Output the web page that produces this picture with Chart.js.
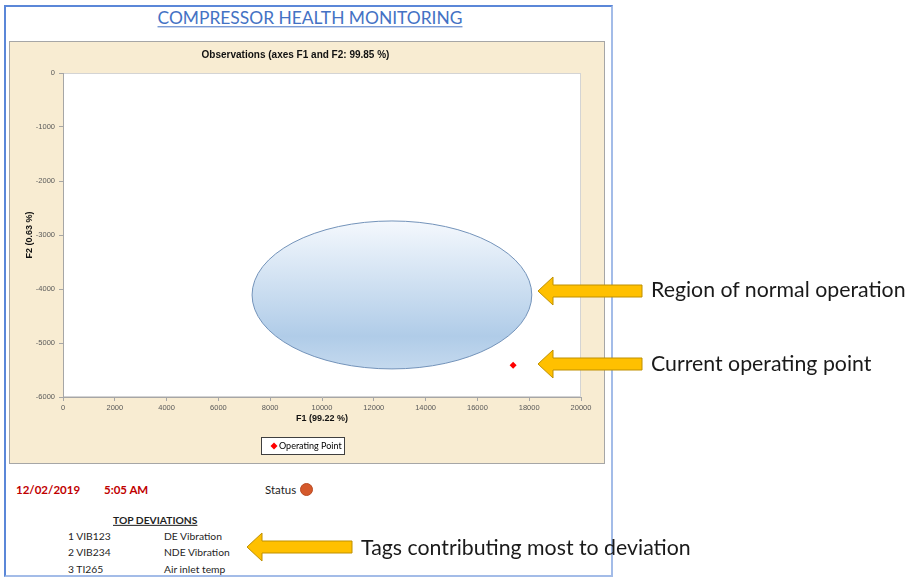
<!DOCTYPE html>
<html>
<head>
<meta charset="utf-8">
<script src="https://cdn.jsdelivr.net/npm/chart.js@4.4.1/dist/chart.umd.min.js"></script>
<style>
  html, body { margin: 0; padding: 0; background: #fff; }
  body { width: 917px; height: 584px; position: relative; overflow: hidden; font-family: Lato, 'Open Sans', sans-serif; }
  .frame { position: absolute; left: 4px; top: 5px; width: 609px; height: 572px; box-sizing: border-box;
    border-left: 2px solid #5b87d8; border-top: 2px solid #5b87d8; border-right: 2px solid #a3bce8; border-bottom: 2px solid #a3bce8; }
  .t { position: absolute; white-space: nowrap; line-height: 1; transform: translateY(-50%); }
  .title { left: 4px; width: 612px; top: 18px; text-align: center; font-size: 17.4px; color: #4472c4; text-decoration: underline; text-underline-offset: 2px; }
  .plotbox { position: absolute; left: 9px; top: 41px; width: 594px; height: 421px; border: 1px solid #a6a6a6; background: #f8ecd2; }
  .plotbox canvas { display: block; }
  .red { color: #c00000; font-weight: bold; font-size: 11.5px; }
  .dark { color: #1f1f1f; font-size: 11.5px; }
  .small { color: #1f1f1f; font-size: 10.3px; }
  .dot { position: absolute; left: 299.5px; top: 483px; width: 11px; height: 11px; border-radius: 50%; background: #d5592b; border: 1px solid #b94a22; }
  .callout { font-size: 21.3px; color: #1a1a1a; }
</style>
</head>
<body>
<div class="frame"></div>
<div class="t title">COMPRESSOR HEALTH MONITORING</div>
<div class="plotbox"><canvas id="chartObs" width="594" height="421"></canvas></div>

<div class="t red" style="left:16px; top:490px;">12/02/2019</div>
<div class="t red" style="left:104px; top:490px;">5:05 AM</div>
<div class="t dark" style="left:265px; top:490px;">Status</div>
<div class="dot"></div>
<div class="t small" style="left:113px; top:520px; font-weight:bold; text-decoration:underline;">TOP DEVIATIONS</div>
<div id="devRows"></div>

<svg width="917" height="584" style="position:absolute; left:0; top:0;">
  <g fill="#ffc000" stroke="#bf9000" stroke-width="1">
    <polygon points="538,291 553,277 553,285 642,285 642,297 553,297 553,305" />
    <polygon points="538,364 553,350 553,358 642,358 642,370 553,370 553,378" />
    <polygon points="247,547 262,533 262,541 352,541 352,553 262,553 262,561" />
  </g>
</svg>
<div class="t callout" style="left:651px; top:290px;">Region of normal operation</div>
<div class="t callout" style="left:651px; top:364px;">Current operating point</div>
<div class="t callout" style="left:361px; top:548px;">Tags contributing most to deviation</div>

<script>
const f1Ticks = [0, 2000, 4000, 6000, 8000, 10000, 12000, 14000, 16000, 18000, 20000];
const f2Ticks = [-6000, -5000, -4000, -3000, -2000, -1000, 0];
const operatingF1 = [17380];
const operatingF2 = [-5410];
const regionCenter = [12700, -4110];   // F1, F2
const regionRadius = [5400, 1370];     // F1, F2
const deviationTags = ['VIB123', 'VIB234', 'TI265'];
const deviationNames = ['DE Vibration', 'NDE Vibration', 'Air inlet temp'];

// top deviations list
const rowsY = [536, 552, 569];
document.getElementById('devRows').innerHTML = deviationTags.map((tag, i) => `
  <div class="t small" style="left:68px; top:${rowsY[i]}px;">${i + 1} ${tag}</div>
  <div class="t small" style="left:164px; top:${rowsY[i]}px;">${deviationNames[i]}</div>
`).join('');

Chart.defaults.font.family = "'Liberation Sans', Arial, sans-serif";

const plotBackground = {
  id: 'plotBackground',
  beforeDraw(chart) {
    const { ctx, chartArea: a } = chart;
    ctx.save();
    ctx.fillStyle = '#ffffff';
    ctx.fillRect(a.left, a.top, a.right - a.left, a.bottom - a.top);
    ctx.strokeStyle = '#d4d4d4';
    ctx.lineWidth = 1;
    ctx.strokeRect(a.left + 0.5, a.top + 0.5, a.right - a.left - 1, a.bottom - a.top - 1);
    ctx.restore();
  }
};

const normalRegion = {
  id: 'normalRegion',
  beforeDatasetsDraw(chart) {
    const { ctx, scales: { x, y } } = chart;
    const cx = x.getPixelForValue(regionCenter[0]);
    const cy = y.getPixelForValue(regionCenter[1]);
    const rx = Math.abs(x.getPixelForValue(regionCenter[0] + regionRadius[0]) - cx);
    const ry = Math.abs(y.getPixelForValue(regionCenter[1] + regionRadius[1]) - cy);
    const g = ctx.createLinearGradient(0, cy - ry, 0, cy + ry);
    g.addColorStop(0, '#f4f8fd');
    g.addColorStop(0.78, '#b0cce8');
    g.addColorStop(1, '#c4d9ee');
    ctx.save();
    ctx.beginPath();
    ctx.ellipse(cx, cy, rx, ry, 0, 0, Math.PI * 2);
    ctx.fillStyle = g;
    ctx.fill();
    ctx.lineWidth = 1;
    ctx.strokeStyle = '#7393ba';
    ctx.stroke();
    ctx.restore();
  }
};

const boxedLegend = {
  id: 'boxedLegend',
  afterDraw(chart, args, opts) {
    const { ctx } = chart;
    const ds = chart.data.datasets[0];
    const cy = opts.top + opts.height / 2;
    ctx.save();
    ctx.fillStyle = '#ffffff';
    ctx.fillRect(opts.left, opts.top, opts.width, opts.height);
    ctx.strokeStyle = '#3f3f3f';
    ctx.lineWidth = 1;
    ctx.strokeRect(opts.left + 0.5, opts.top + 0.5, opts.width - 1, opts.height - 1);
    ctx.fillStyle = ds.backgroundColor;
    if (Chart.helpers && Chart.helpers.drawPoint) {
      Chart.helpers.drawPoint(ctx, { pointStyle: ds.pointStyle, radius: ds.pointRadius, rotation: 0, borderWidth: 0 }, opts.left + 13, cy);
    } else {
      const r = ds.pointRadius;
      ctx.beginPath();
      ctx.moveTo(opts.left + 13, cy - r); ctx.lineTo(opts.left + 13 + r, cy);
      ctx.lineTo(opts.left + 13, cy + r); ctx.lineTo(opts.left + 13 - r, cy);
      ctx.closePath(); ctx.fill();
    }
    ctx.fillStyle = '#000000';
    ctx.font = '9px Lato';
    ctx.textBaseline = 'middle';
    ctx.fillText(ds.label, opts.left + 18, cy + 0.5);
    ctx.restore();
  }
};

new Chart(document.getElementById('chartObs'), {
  type: 'scatter',
  data: {
    datasets: [{
      label: 'Operating Point',
      data: operatingF1.map((v, i) => ({ x: v, y: operatingF2[i] })),
      backgroundColor: '#ff0000',
      borderWidth: 0,
      pointStyle: 'rectRot',
      pointRadius: 3.5,
      pointHoverRadius: 3.5
    }]
  },
  options: {
    responsive: false,
    animation: false,
    events: [],
    layout: { padding: { left: 0, right: 23, top: 0, bottom: 34 } },
    plugins: {
      legend: { display: false },
      tooltip: { enabled: false },
      title: {
        display: true,
        text: 'Observations (axes F1 and F2: 99.85 %)',
        color: '#111',
        font: { size: 10, weight: 'bold' },
        padding: { top: 7, bottom: 12 }
      },
      boxedLegend: { left: 251, top: 395, width: 84, height: 18 }
    },
    scales: {
      x: {
        type: 'linear',
        min: 0, max: 20000,
        afterBuildTicks: s => { s.ticks = f1Ticks.map(v => ({ value: v })); },
        afterFit: s => { s.height = 32; },
        grid: { drawOnChartArea: false, drawTicks: true, tickLength: 4, color: '#a6a6a6' },
        border: { display: true, color: '#a6a6a6' },
        ticks: { color: '#595959', font: { size: 7.5 }, padding: 2, maxRotation: 0, callback: v => String(v) },
        title: { display: true, text: 'F1 (99.22 %)', color: '#111', font: { size: 9, weight: 'bold' }, padding: { top: 0, bottom: 4.6 } }
      },
      y: {
        type: 'linear',
        min: -6000, max: 0,
        afterBuildTicks: s => { s.ticks = f2Ticks.map(v => ({ value: v })); },
        afterFit: s => { s.width = 53; },
        grid: { drawOnChartArea: false, drawTicks: true, tickLength: 4, color: '#a6a6a6' },
        border: { display: true, color: '#a6a6a6' },
        ticks: { color: '#595959', font: { size: 7.5 }, padding: 4, callback: v => String(v) },
        title: { display: true, text: 'F2 (0.63 %)', color: '#111', font: { size: 9, weight: 'bold' }, padding: { top: 14.6, bottom: 0 } }
      }
    }
  },
  plugins: [plotBackground, normalRegion, boxedLegend]
});
</script>
</body>
</html>
